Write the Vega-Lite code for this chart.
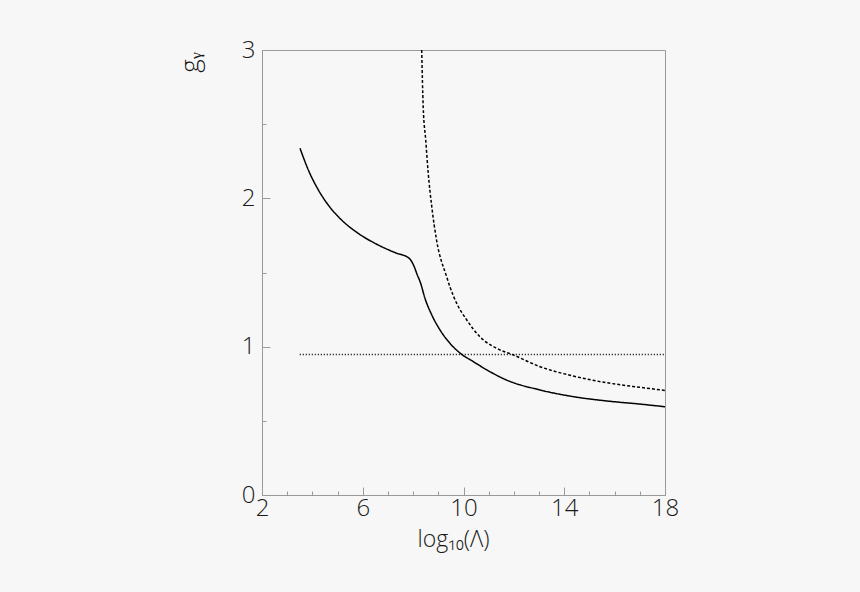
{
  "$schema": "https://vega.github.io/schema/vega-lite/v6.json",
  "width": 403,
  "height": 445,
  "autosize": "none",
  "padding": {"left": 262, "top": 50, "right": 195, "bottom": 97},
  "background": "#f7f7f7",
  "config": {
    "view": {"stroke": "#9a9a9a", "strokeWidth": 1},
    "axis": {
      "domainColor": "#9a9a9a",
      "tickColor": "#9a9a9a",
      "grid": false,
      "labelFlush": false,
      "labelOverlap": false,
      "labelFont": "Open Sans",
      "labelFontWeight": 300,
      "labelFontSize": 24,
      "labelColor": "#1a1a1a",
      "titleFont": "Open Sans",
      "titleFontSize": 23,
      "titleFontWeight": 300,
      "titleColor": "#1a1a1a"
    }
  },
  "data": {
    "values": [
      {"series": "solid", "x": 3.51, "y": 2.337},
      {"series": "solid", "x": 3.84, "y": 2.191},
      {"series": "solid", "x": 4.24, "y": 2.056},
      {"series": "solid", "x": 4.63, "y": 1.955},
      {"series": "solid", "x": 5.16, "y": 1.854},
      {"series": "solid", "x": 5.82, "y": 1.764},
      {"series": "solid", "x": 6.62, "y": 1.685},
      {"series": "solid", "x": 7.28, "y": 1.634},
      {"series": "solid", "x": 7.84, "y": 1.596},
      {"series": "solid", "x": 8.07, "y": 1.528},
      {"series": "solid", "x": 8.14, "y": 1.495},
      {"series": "solid", "x": 8.3, "y": 1.427},
      {"series": "solid", "x": 8.47, "y": 1.326},
      {"series": "solid", "x": 8.74, "y": 1.214},
      {"series": "solid", "x": 9.07, "y": 1.112},
      {"series": "solid", "x": 9.46, "y": 1.023},
      {"series": "solid", "x": 9.93, "y": 0.948},
      {"series": "solid", "x": 10.39, "y": 0.899},
      {"series": "solid", "x": 10.89, "y": 0.847},
      {"series": "solid", "x": 11.71, "y": 0.775},
      {"series": "solid", "x": 13.04, "y": 0.708},
      {"series": "solid", "x": 14.36, "y": 0.663},
      {"series": "solid", "x": 15.68, "y": 0.634},
      {"series": "solid", "x": 17.0, "y": 0.613},
      {"series": "solid", "x": 18.0, "y": 0.595},
      {"series": "dashed", "x": 8.34, "y": 3.0},
      {"series": "dashed", "x": 8.4, "y": 2.618},
      {"series": "dashed", "x": 8.5, "y": 2.393},
      {"series": "dashed", "x": 8.6, "y": 2.169},
      {"series": "dashed", "x": 8.74, "y": 1.944},
      {"series": "dashed", "x": 8.93, "y": 1.719},
      {"series": "dashed", "x": 9.33, "y": 1.472},
      {"series": "dashed", "x": 9.46, "y": 1.404},
      {"series": "dashed", "x": 9.73, "y": 1.292},
      {"series": "dashed", "x": 10.13, "y": 1.18},
      {"series": "dashed", "x": 10.65, "y": 1.067},
      {"series": "dashed", "x": 11.32, "y": 0.989},
      {"series": "dashed", "x": 11.98, "y": 0.944},
      {"series": "dashed", "x": 13.04, "y": 0.865},
      {"series": "dashed", "x": 14.36, "y": 0.802},
      {"series": "dashed", "x": 15.68, "y": 0.757},
      {"series": "dashed", "x": 17.0, "y": 0.726},
      {"series": "dashed", "x": 18.0, "y": 0.705},
      {"series": "dotted", "x": 3.5, "y": 0.948},
      {"series": "dotted", "x": 18.0, "y": 0.948}
    ]
  },
  "layer": [
    {
      "mark": {"type": "line", "color": "black", "strokeWidth": 1.5, "interpolate": "monotone", "clip": true},
      "encoding": {
        "x": {
          "field": "x", "type": "quantitative",
          "scale": {"domain": [2, 18], "nice": false, "zero": false},
          "axis": {
            "orient": "bottom",
            "values": [2, 6, 10, 14, 18],
            "tickSize": -8,
            "labelPadding": 9,
            "title": "log₁₀(Λ)",
            "titleX": 191,
            "titleY": 51,
            "titleBaseline": "alphabetic"
          }
        },
        "y": {
          "field": "y", "type": "quantitative",
          "scale": {"domain": [0, 3], "nice": false},
          "axis": {
            "orient": "left",
            "values": [0, 1, 2, 3],
            "tickSize": -8,
            "labelPadding": 15,
            "title": "gᵧ",
            "titleAngle": 270,
            "titleAlign": "center",
            "titleBaseline": "middle",
            "titleFontSize": 26,
            "titleX": -72,
            "titleY": 12
          }
        },
        "detail": {"field": "series"},
        "strokeDash": {
          "field": "series", "type": "nominal",
          "scale": {"domain": ["solid", "dashed", "dotted"], "range": [[1, 0], [3, 2], [1, 2]]},
          "legend": null
        }
      }
    },
    {
      "mark": {"type": "line", "opacity": 0},
      "encoding": {
        "x": {
          "field": "x", "type": "quantitative",
          "axis": {
            "orient": "bottom",
            "values": [2, 3, 4, 5, 6, 7, 8, 9, 10, 11, 12, 13, 14, 15, 16, 17, 18],
            "tickSize": -4, "labels": false, "domain": false, "title": null
          }
        },
        "y": {
          "field": "y", "type": "quantitative",
          "axis": {
            "orient": "left",
            "values": [0, 0.5, 1, 1.5, 2, 2.5, 3],
            "tickSize": -4, "labels": false, "domain": false, "title": null
          }
        },
        "detail": {"field": "series"}
      }
    }
  ],
  "resolve": {"axis": {"x": "independent", "y": "independent"}}
}
